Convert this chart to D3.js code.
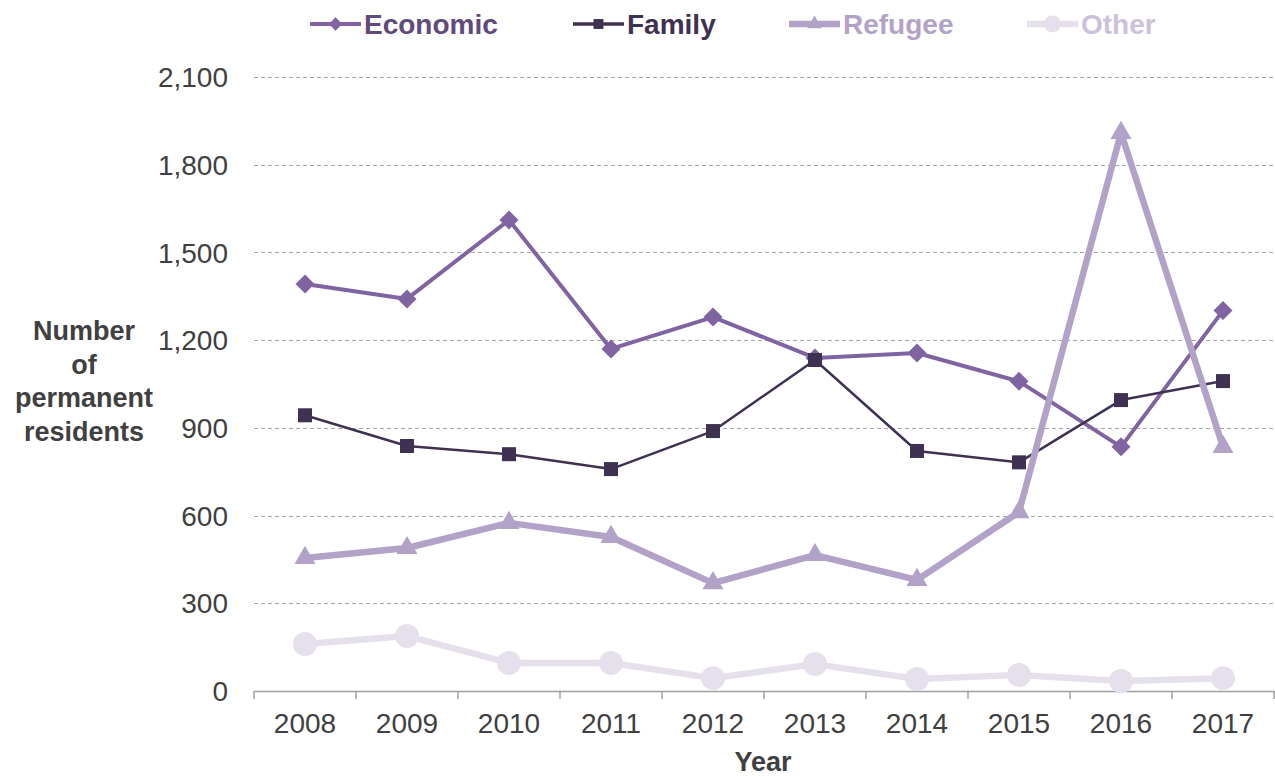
<!DOCTYPE html>
<html>
<head>
<meta charset="utf-8">
<script src="https://cdnjs.cloudflare.com/ajax/libs/d3/7.8.5/d3.min.js"></script>
<style>
  body { margin: 0; background: #fff; }
  text { font-family: "Liberation Sans", Arial, sans-serif; }
</style>
</head>
<body>
<div id="chart"></div>
<script>

/*
Chart data
*/
var years = ["2008", "2009", "2010", "2011", "2012", "2013", "2014", "2015", "2016", "2017"];
var economic = [1392, 1341, 1611, 1170, 1279, 1139, 1156, 1059, 835, 1301];
var family = [943, 838, 810, 759, 889, 1132, 821, 782, 995, 1060];
var refugee = [455, 489, 575, 527, 369, 465, 380, 612, 1909, 835];
var other = [161, 188, 96, 96, 44, 92, 41, 55, 34, 44];
var yTicks = [0, 300, 600, 900, 1200, 1500, 1800, 2100];
var seriesNames = ["Economic", "Family", "Refugee", "Other"];

// Series styles
var styles = {
	Economic: { line: "#8064a2", text: "#604a7b", width: 4, symbol: d3.symbolDiamond2, size: 230 },
	Family:   { line: "#3f3151", text: "#3f3151", width: 2.5, symbol: d3.symbolSquare2, size: 250 },
	Refugee:  { line: "#b3a2c7", text: "#b3a2c7", width: 6.5, symbol: d3.symbolTriangle2, size: 316 },
	Other:    { line: "#e6e0ec", text: "#ccc1da", width: 6.5, symbol: d3.symbolCircle, size: 452 }
};
var values = { Economic: economic, Family: family, Refugee: refugee, Other: other };

/*
Sizes
*/
var W = 1275, H = 777;
var margin = { top: 77, right: 1, bottom: 86, left: 254 };
var width = W - margin.left - margin.right,
	height = H - margin.top - margin.bottom;

var svg = d3.select("#chart").append("svg")
	.attr("width", W)
	.attr("height", H);

var g = svg.append("g")
	.attr("transform", "translate(" + margin.left + "," + margin.top + ")");

/*
Scales
*/
var xScale = d3.scaleBand()
	.domain(years)
	.range([0, width]);

var yScale = d3.scaleLinear()
	.domain([0, 2100])
	.range([height, 0]);

// Gridlines
g.append("g").selectAll("line")
	.data(yTicks.filter(function(t) { return t > 0; }))
	.enter().append("line")
	.attr("x1", 0)
	.attr("x2", width)
	.attr("y1", function(d) { return Math.round(yScale(d)) + 0.5; })
	.attr("y2", function(d) { return Math.round(yScale(d)) + 0.5; })
	.attr("stroke", "#a6a6a6")
	.attr("stroke-width", 1)
	.attr("stroke-dasharray", "4,3");

// Y tick labels
g.append("g").selectAll("text")
	.data(yTicks)
	.enter().append("text")
	.attr("x", -26)
	.attr("y", function(d) { return yScale(d); })
	.attr("dy", "0.36em")
	.attr("text-anchor", "end")
	.attr("font-size", 28)
	.attr("fill", "#404040")
	.text(d3.format(","));

// X axis
var xAxis = d3.axisBottom(xScale)
	.tickSize(0)
	.tickPadding(22);

var gX = g.append("g")
	.attr("transform", "translate(0," + height + ")")
	.call(xAxis);
gX.select(".domain").attr("stroke", "#a0a0a0").attr("stroke-width", 1.5);
gX.selectAll(".tick text")
	.attr("font-size", 28)
	.attr("fill", "#404040")
	.attr("font-family", "Liberation Sans, Arial, sans-serif");

// Tick marks between categories
gX.append("g").selectAll("line")
	.data(years.concat(["end"]))
	.enter().append("line")
	.attr("x1", function(d, i) { return i * xScale.step(); })
	.attr("x2", function(d, i) { return i * xScale.step(); })
	.attr("y1", 0)
	.attr("y2", 8)
	.attr("stroke", "#a0a0a0")
	.attr("stroke-width", 1.5);

// Axis titles
g.append("text")
	.attr("x", width / 2 - 1)
	.attr("y", H - margin.top - 6)
	.attr("text-anchor", "middle")
	.attr("font-size", 27)
	.attr("font-weight", "bold")
	.attr("fill", "#404040")
	.text("Year");

var yTitle = svg.append("text")
	.attr("text-anchor", "middle")
	.attr("font-size", 27)
	.attr("font-weight", "bold")
	.attr("fill", "#404040");
["Number", "of", "permanent", "residents"].forEach(function(s, i) {
	yTitle.append("tspan")
		.attr("x", 84)
		.attr("y", 340 + i * 33.5)
		.text(s);
});

/*
Series lines and markers
*/
var line = d3.line()
	.x(function(d, i) { return xScale(years[i]) + xScale.bandwidth() / 2; })
	.y(function(d) { return yScale(d); });

seriesNames.forEach(function(name) {
	var st = styles[name];
	var sg = g.append("g").attr("class", "series");

	sg.append("path")
		.datum(values[name])
		.attr("d", line)
		.attr("fill", "none")
		.attr("stroke", st.line)
		.attr("stroke-width", st.width)
		.attr("stroke-linejoin", "round");

	sg.selectAll("path.marker")
		.data(values[name])
		.enter().append("path")
		.attr("class", "marker")
		.attr("d", d3.symbol().type(st.symbol).size(st.size))
		.attr("transform", function(d, i) {
			return "translate(" + (xScale(years[i]) + xScale.bandwidth() / 2) + "," + yScale(d) + ")";
		})
		.attr("fill", st.line);
});

/*
Legend
*/
var legendX = [310, 573, 789, 1027];
var legend = svg.append("g");
seriesNames.forEach(function(name, i) {
	var st = styles[name];
	var lg = legend.append("g").attr("transform", "translate(" + legendX[i] + ",24)");
	lg.append("line")
		.attr("x1", 0).attr("x2", 51)
		.attr("y1", 0).attr("y2", 0)
		.attr("stroke", st.line)
		.attr("stroke-width", Math.max(st.width, 3.5));
	lg.append("path")
		.attr("d", d3.symbol().type(st.symbol).size(st.size * 0.5))
		.attr("transform", "translate(25.5,0)")
		.attr("fill", st.line);
	lg.append("text")
		.attr("x", 54)
		.attr("y", 10)
		.attr("font-size", 28)
		.attr("font-weight", "bold")
		.attr("fill", st.text)
		.text(name);
});

</script>
</body>
</html>
